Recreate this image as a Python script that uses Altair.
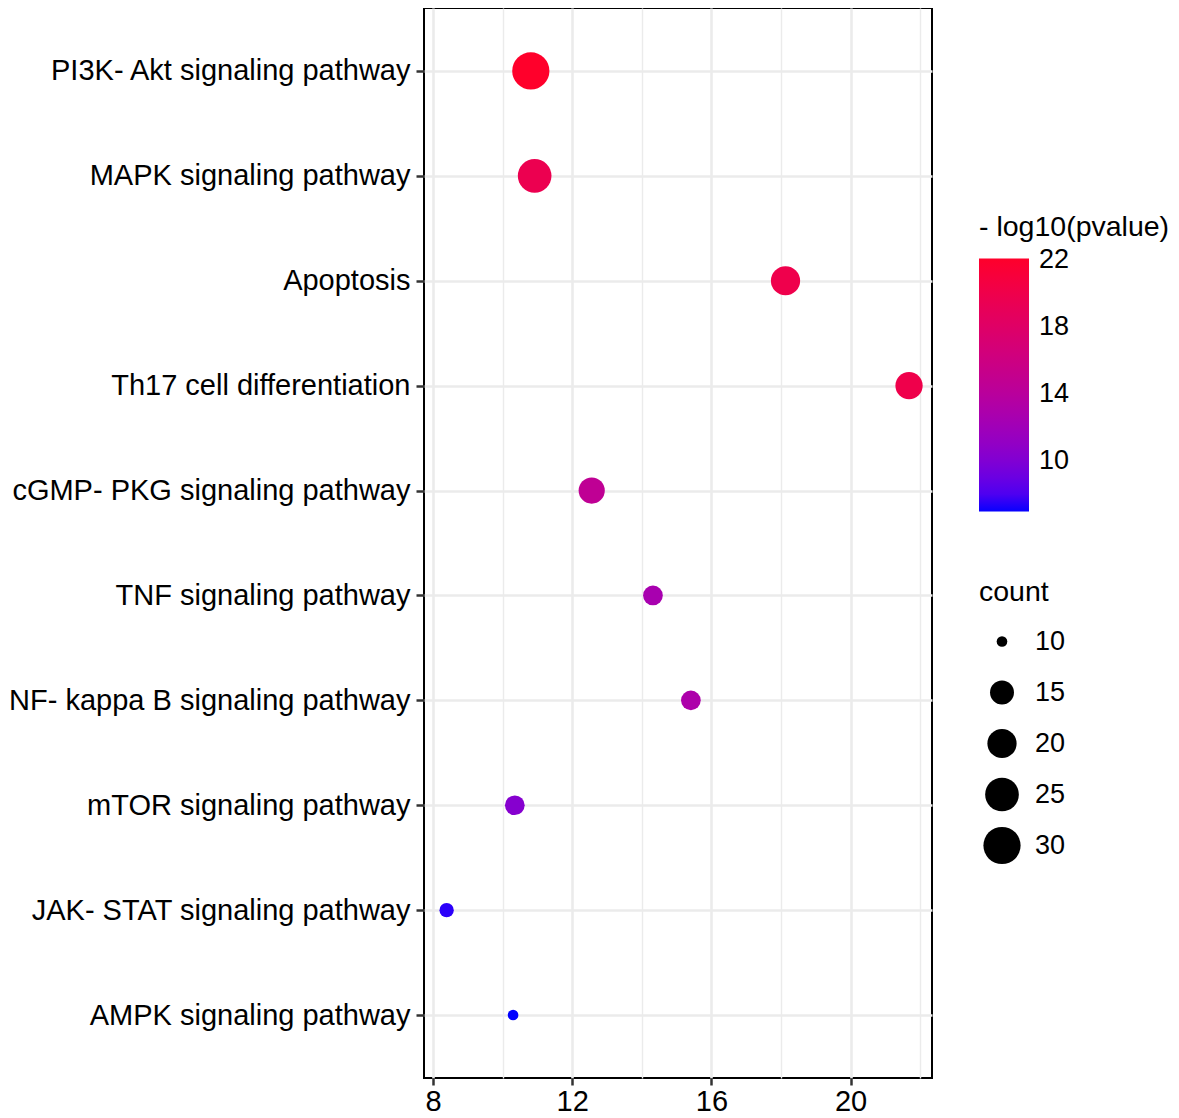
import altair as alt
import pandas as pd

pathways = [
    "PI3K- Akt signaling pathway",
    "MAPK signaling pathway",
    "Apoptosis",
    "Th17 cell differentiation",
    "cGMP- PKG signaling pathway",
    "TNF signaling pathway",
    "NF- kappa B signaling pathway",
    "mTOR signaling pathway",
    "JAK- STAT signaling pathway",
    "AMPK signaling pathway",
]
rich_factor = [10.81, 10.92, 18.13, 21.68, 12.56, 14.32, 15.41, 10.35, 8.39, 10.30]
neg_log_p = [22.08, 19.6, 19.9, 20.0, 14.6, 12.6, 13.0, 10.3, 7.3, 6.96]
counts = [30, 25, 20, 18, 17, 13, 13, 13, 11, 10]

size_legend_values = [10, 15, 20, 25, 30]
color_legend_values = [10, 14, 18, 22]
x_ticks = [8, 10, 12, 14, 16, 18, 20, 22]

df = pd.DataFrame({
    "pathway": pathways,
    "x": rich_factor,
    "logp": neg_log_p,
    "count": counts,
})

FONT = "Liberation Sans"

chart = alt.Chart(df).mark_circle(opacity=1).encode(
    x=alt.X(
        "x:Q",
        title=None,
        scale=alt.Scale(domain=[7.74, 22.34], nice=False, zero=False),
        axis=alt.Axis(
            values=x_ticks,
            labelExpr="datum.value % 4 === 0 ? datum.label : ''",
            labelFontSize=29,
            labelFont=FONT,
            labelColor="black",
            labelPadding=2,
            tickSize=7,
            tickColor="#333333",
            tickWidth=2.5,
            tickOpacity={"condition": {"test": "datum.value % 4 === 0", "value": 1}, "value": 0},
            grid=True,
            gridColor="#EBEBEB",
            gridWidth={"condition": {"test": "datum.value % 4 === 0", "value": 2.6}, "value": 1.4},
            domain=False,
        ),
    ),
    y=alt.Y(
        "pathway:N",
        title=None,
        sort=pathways,
        scale=alt.Scale(type="point", padding=0.6),
        axis=alt.Axis(
            labelFontSize=29,
            labelFont=FONT,
            labelColor="black",
            labelPadding=6,
            labelLimit=600,
            tickSize=8,
            tickColor="#333333",
            tickWidth=2.5,
            grid=True,
            gridColor="#EBEBEB",
            gridWidth=2.6,
            domain=False,
        ),
    ),
    color=alt.Color(
        "logp:Q",
        title="- log10(pvalue)",
        scale=alt.Scale(
            domain=[6.96, 22.08],
            range=["#0000FF", "#FF002B"],
            interpolate="lab",
            nice=False,
            zero=False,
        ),
        legend=alt.Legend(
            orient="none",
            legendX=555,
            legendY=205,
            direction="vertical",
            values=color_legend_values,
            gradientLength=253,
            gradientThickness=50,
            gradientStrokeWidth=0,
            titleFontSize=28.5,
            titleFont=FONT,
            titleFontWeight="normal",
            titleColor="black",
            titleLimit=400,
            titlePadding=17,
            labelFontSize=27,
            labelFont=FONT,
            labelColor="black",
            labelOffset=10,
        ),
    ),
    size=alt.Size(
        "count:Q",
        title="count",
        scale=alt.Scale(
            domain=[10, 15, 20, 25, 30],
            range=[113, 573, 855, 1134, 1385],
            zero=False,
        ),
        legend=alt.Legend(
            orient="none",
            legendX=555,
            legendY=570,
            values=size_legend_values,
            symbolFillColor="black",
            symbolStrokeColor="black",
            symbolStrokeWidth=0,
            symbolOpacity=1,
            symbolType="circle",
            symbolOffset=4,
            clipHeight=42,
            rowPadding=9,
            titleFontSize=28.5,
            titleFont=FONT,
            titleFontWeight="normal",
            titleColor="black",
            titlePadding=14,
            labelFontSize=27,
            labelFont=FONT,
            labelColor="black",
            labelOffset=14,
        ),
    ),
    order=alt.Order("count:Q", sort="descending"),
).properties(
    width=508,
    height=1070,
    padding={"left": 0, "top": 0, "right": 0, "bottom": 0},
).configure(
    background="white",
).configure_view(
    stroke="black",
    strokeWidth=2,
    fill="white",
)

chart.save("out.html", embed_options={"renderer": "svg", "actions": False})
